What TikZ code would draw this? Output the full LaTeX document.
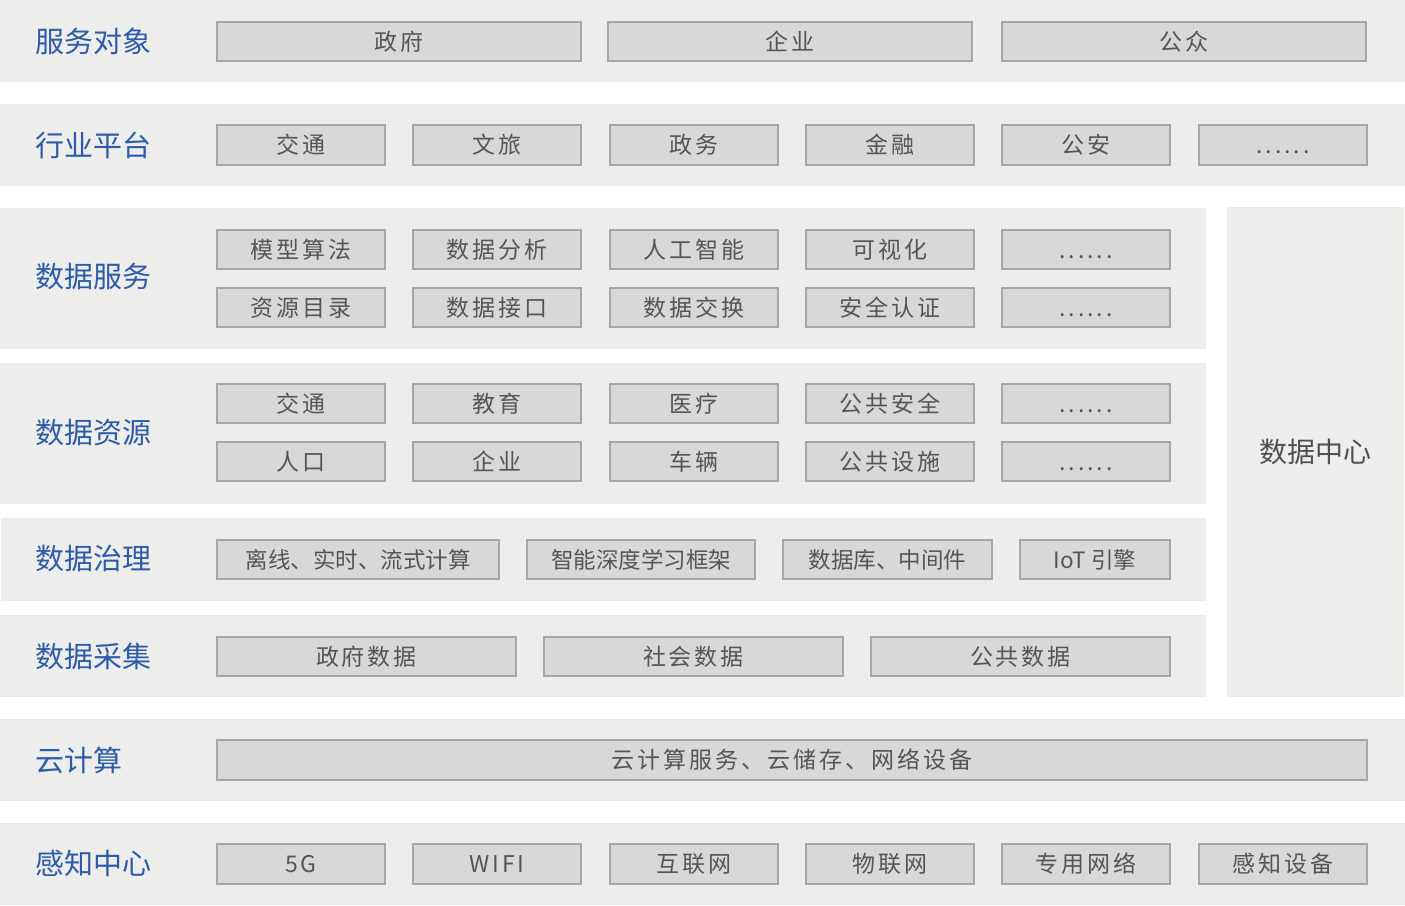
\documentclass[tikz,border=0pt]{standalone}
\usepackage{fontspec}
\newfontfamily\cjk{Noto Sans CJK SC}
\newfontfamily\cjksp[LetterSpace=13]{Noto Sans CJK SC}
\definecolor{bandbg}{HTML}{EDEDEC}
\definecolor{cellbg}{HTML}{D8D8D8}
\definecolor{cellline}{HTML}{A6A6A6}
\definecolor{celltext}{HTML}{555555}
\definecolor{labelblue}{HTML}{2D5BA7}
\definecolor{dctext}{HTML}{505050}
\tikzset{
  band/.style={fill=bandbg, draw=none},
  cell/.style={draw=cellline, fill=cellbg, line width=1.2pt, inner sep=0pt,
    text=celltext, font=\fontsize{23}{23}\cjksp, text height=20pt, text depth=2.5pt},
  celltight/.style={cell, font=\fontsize{22.5}{22.5}\cjk},
  lab/.style={anchor=west, text=labelblue, font=\fontsize{29}{29}\cjk, inner sep=0pt},
}
% name, x1, x2, y1, y2, text
\newcommand\mycell[7][cell]{%
  \node[#1, minimum width={#4-#3}, minimum height={#6-#5}] (#2) at ({(#3+#4)/2},{(#5+#6)/2}) {#7};}
\begin{document}
\begin{tikzpicture}[x=1pt,y=-1pt]
\useasboundingbox (0,0) rectangle (1405,905);
% bands
\fill[band] (0,0) rectangle (1405,82);
\fill[band] (0,104) rectangle (1405,186);
\fill[band] (0,208) rectangle (1206,349);
\fill[band] (0,363) rectangle (1206,504);
\fill[band] (1,518) rectangle (1206,601);
\fill[band] (0,615) rectangle (1206,697);
\fill[band] (0,719) rectangle (1405,801);
\fill[band] (0,823) rectangle (1405,905);
\node[band, minimum width=177pt, minimum height=490pt, inner sep=0pt,
  text=dctext, font=\fontsize{28}{28}\cjk] (dc) at (1315.5,452) {数据中心};
% labels
\node[lab] (l1) at (35,41) {服务对象};
\node[lab] (l2) at (35,145) {行业平台};
\node[lab] (l3) at (35,277) {数据服务};
\node[lab] (l4) at (35,433) {数据资源};
\node[lab] (l5) at (35,559) {数据治理};
\node[lab] (l6) at (35,656) {数据采集};
\node[lab] (l7) at (35,760) {云计算};
\node[lab] (l8) at (35,863) {感知中心};
% row 1
\mycell{a1}{217}{581}{22}{61}{政府}
\mycell{a2}{608}{972}{22}{61}{企业}
\mycell{a3}{1002}{1366}{22}{61}{公众}
% row 2
\mycell{b1}{217}{385}{125}{165}{交通}
\mycell{b2}{413}{581}{125}{165}{文旅}
\mycell{b3}{610}{778}{125}{165}{政务}
\mycell{b4}{806}{974}{125}{165}{金融}
\mycell{b5}{1002}{1170}{125}{165}{公安}
\mycell{b6}{1199}{1367}{125}{165}{......}
% row 3
\mycell{c1}{217}{385}{230}{269}{模型算法}
\mycell{c2}{413}{581}{230}{269}{数据分析}
\mycell{c3}{610}{778}{230}{269}{人工智能}
\mycell{c4}{806}{974}{230}{269}{可视化}
\mycell{c5}{1002}{1170}{230}{269}{......}
\mycell{c6}{217}{385}{288}{327}{资源目录}
\mycell{c7}{413}{581}{288}{327}{数据接口}
\mycell{c8}{610}{778}{288}{327}{数据交换}
\mycell{c9}{806}{974}{288}{327}{安全认证}
\mycell{c10}{1002}{1170}{288}{327}{......}
% row 4
\mycell{d1}{217}{385}{384}{423}{交通}
\mycell{d2}{413}{581}{384}{423}{教育}
\mycell{d3}{610}{778}{384}{423}{医疗}
\mycell{d4}{806}{974}{384}{423}{公共安全}
\mycell{d5}{1002}{1170}{384}{423}{......}
\mycell{d6}{217}{385}{442}{481}{人口}
\mycell{d7}{413}{581}{442}{481}{企业}
\mycell{d8}{610}{778}{442}{481}{车辆}
\mycell{d9}{806}{974}{442}{481}{公共设施}
\mycell{d10}{1002}{1170}{442}{481}{......}
% row 5
\mycell[celltight]{e1}{217}{499}{540}{579}{离线、实时、流式计算}
\mycell[celltight]{e2}{527}{755}{540}{579}{智能深度学习框架}
\mycell[celltight]{e3}{783}{992}{540}{579}{数据库、中间件}
\mycell[celltight]{e4}{1020}{1170}{540}{579}{IoT 引擎}
% row 6
\mycell{f1}{217}{516}{637}{676}{政府数据}
\mycell{f2}{544}{843}{637}{676}{社会数据}
\mycell{f3}{871}{1170}{637}{676}{公共数据}
% row 7
\mycell{g1}{217}{1367}{740}{780}{云计算服务、云储存、网络设备}
% row 8
\mycell{h1}{217}{385}{844}{884}{5G}
\mycell{h2}{413}{581}{844}{884}{WIFI}
\mycell{h3}{610}{778}{844}{884}{互联网}
\mycell{h4}{806}{974}{844}{884}{物联网}
\mycell{h5}{1002}{1170}{844}{884}{专用网络}
\mycell{h6}{1199}{1367}{844}{884}{感知设备}
\end{tikzpicture}
\end{document}
